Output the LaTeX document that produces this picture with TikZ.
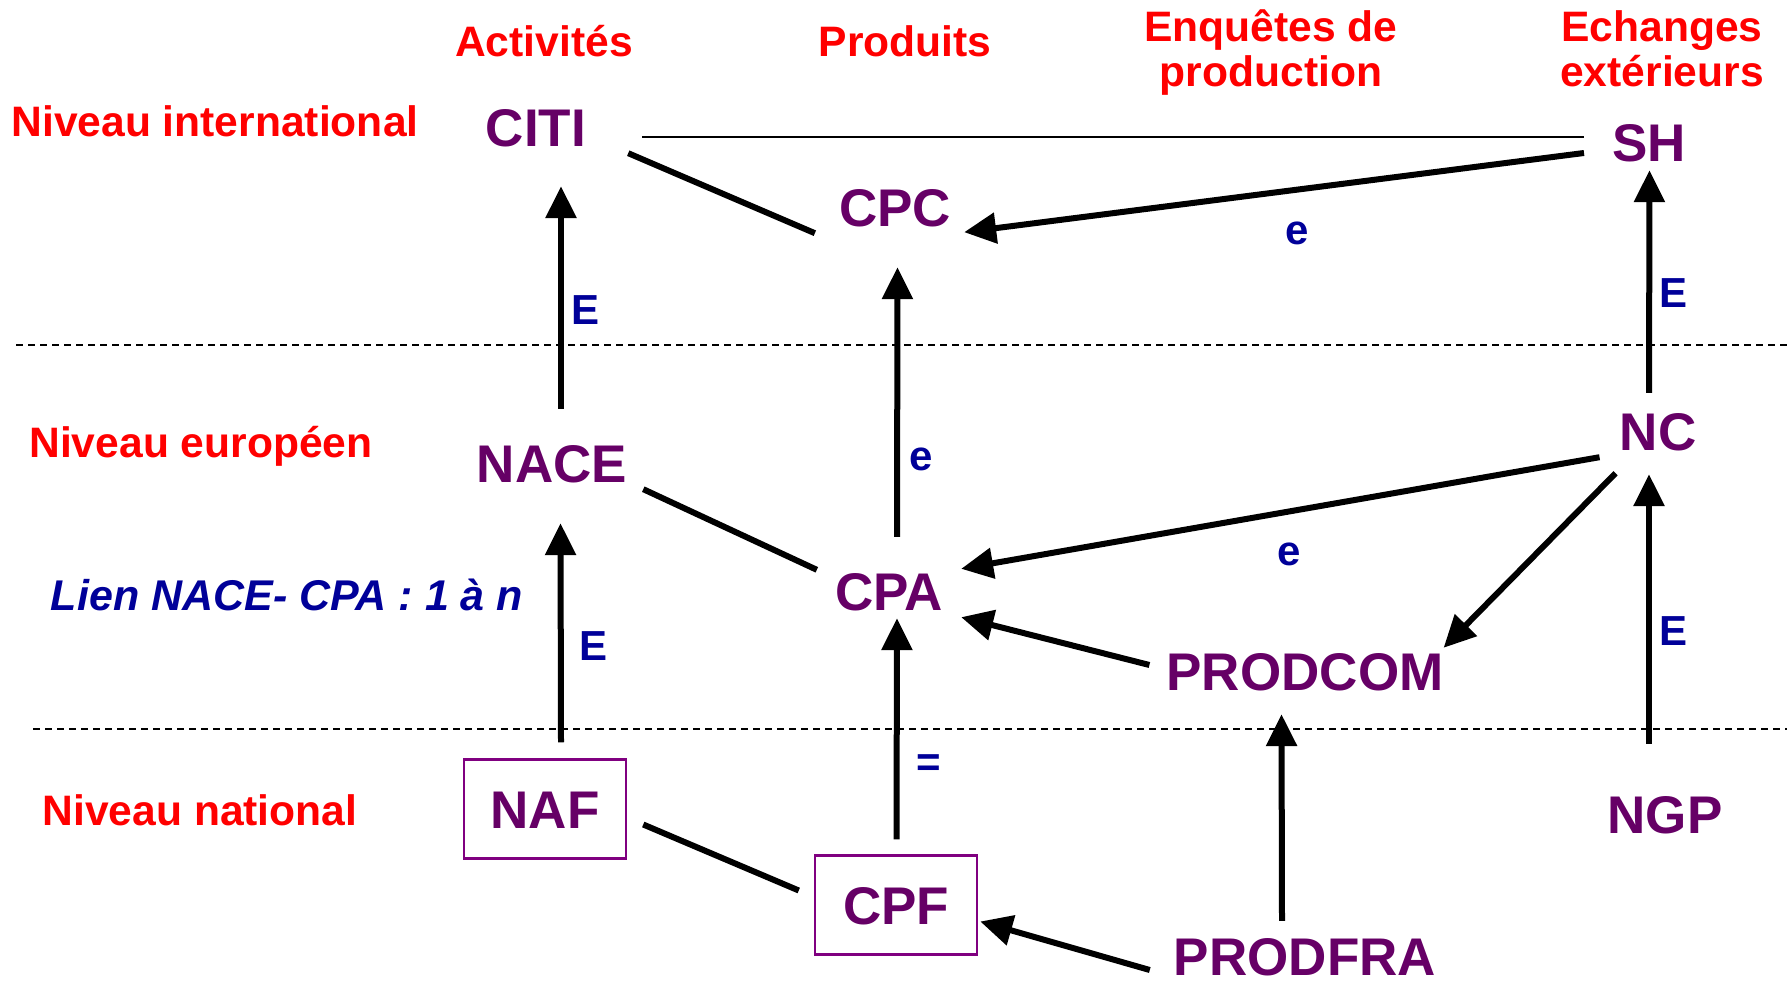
\documentclass[tikz,border=0pt]{standalone}
\usepackage{fontspec}
\setmainfont{Liberation Sans}
\usetikzlibrary{arrows.meta}
\definecolor{rouge}{RGB}{255,0,0}
\definecolor{prune}{RGB}{102,0,102}
\definecolor{cadre}{RGB}{128,0,128}
\definecolor{bleu}{RGB}{0,0,153}
\begin{document}
\begin{tikzpicture}[x=1pt,y=-1pt,
    titre/.style={text=rouge, font=\fontsize{42.6}{45}\selectfont\bfseries, anchor=base, align=center, inner sep=0pt},
    nomen/.style={text=prune, font=\fontsize{53}{56}\selectfont\bfseries, anchor=base, inner sep=0pt, text height=38pt, text depth=0pt},
    boite/.style={nomen, anchor=center, draw=cadre, line width=2.5pt, minimum width=162pt, minimum height=99pt},
    lettre/.style={text=bleu, font=\fontsize{42}{45}\selectfont\bfseries, anchor=base, inner sep=0pt},
    trait/.style={line width=6pt},
    fleche/.style={line width=6pt, -{Triangle[length=32pt,width=30pt]}},
    niveau/.style={line width=2pt, dash pattern=on 7pt off 5pt}]
    \useasboundingbox[fill=white] (0,0) rectangle (1787,981);

    \node[titre] (activites) at (544,57) {Activités};
    \node[titre] (produits) at (905,57) {Produits};
    \node[titre] (enquetes) at (1271,87) {Enquêtes de\\production};
    \node[titre] (echanges) at (1662,87) {Echanges\\extérieurs};
    \node[titre] (inter) at (215,137) {Niveau international};
    \node[titre] (europe) at (201,457) {Niveau européen};
    \node[titre] (nation) at (200,825) {Niveau national};
    \node[lettre, font=\fontsize{43}{45}\selectfont\bfseries\itshape] (lienNC) at (287,610) {Lien NACE- CPA : 1 à n};

    \node[nomen] (CITI) at (536,147) {CITI};
    \node[nomen] (CPC) at (895,227) {CPC};
    \node[nomen] (SH) at (1649,162) {SH};
    \node[nomen] (NACE) at (552,482) {NACE};
    \node[nomen] (CPA) at (889,610) {CPA};
    \node[nomen] (NC) at (1658,450) {NC};
    \node[nomen] (PRODCOM) at (1305,690) {PRODCOM};
    \node[boite] (NAF) at (545,809) {NAF};
    \node[boite] (CPF) at (896,905) {CPF};
    \node[nomen] (PRODFRA) at (1305,975) {PRODFRA};
    \node[nomen] (NGP) at (1665,833) {NGP};

    \draw[niveau] (16,345) -- (1787,345);
    \draw[niveau] (33,729) -- (1787,729);

    \draw[line width=2pt] ([shift={(56,9)}]CITI.east) -- ([shift={(-28,-6)}]SH.west);
    \draw[trait] ([shift={(42,6)}]CITI.south east) -- ([shift={(-24,6)}]CPC.south west);
    \draw[fleche] ([shift={(-28,10)}]SH.west) -- ([shift={(13,5)}]CPC.south east);
    \draw[fleche] ([shift={(9,-35)}]NACE.north) -- ([shift={(25,39)}]CITI.south);
    \draw[fleche] ([shift={(8,-35)}]CPA.north) -- ([shift={(2.5,40)}]CPC.south);
    \draw[fleche] ([shift={(-9,-19)}]NC.north) -- ([shift={(0.5,8)}]SH.south);
    \draw[trait] ([shift={(16,7)}]NACE.south east) -- ([shift={(-18,-2)}]CPA.north west);
    \draw[fleche] ([shift={(-20,7)}]NC.south west) -- ([shift={(18,-3)}]CPA.north east);
    \draw[fleche] ([shift={(-4,23)}]NC.south west) -- ([shift={(0,-4)}]PRODCOM.north east);
    \draw[fleche] ([shift={(-17,-6)}]PRODCOM.west) -- ([shift={(18,7)}]CPA.south east);
    \draw[fleche] ([shift={(16,-16)}]NAF.north) -- ([shift={(8.5,41)}]NACE.south);
    \draw[fleche] ([shift={(-16,-51)}]NGP.north) -- ([shift={(-9,24)}]NC.south);
    \draw[fleche] ([shift={(0.5,-15)}]CPF.north) -- ([shift={(8,8)}]CPA.south);
    \draw[fleche] ([shift={(-23,-16)}]PRODFRA.north) -- ([shift={(-23.5,24)}]PRODCOM.south);
    \draw[trait] ([shift={(16,15.5)}]NAF.east) -- ([shift={(-15,-14.5)}]CPF.west);
    \draw[fleche] ([shift={(-24,14)}]PRODFRA.west) -- ([shift={(2,16.5)}]CPF.east);

    \node[lettre] (E1) at (585,325) {E};
    \node[lettre] (e1) at (1297,245) {e};
    \node[lettre] (E2) at (1673,308) {E};
    \node[lettre] (e2) at (921,470) {e};
    \node[lettre] (e3) at (1289,565) {e};
    \node[lettre] (E3) at (593,660) {E};
    \node[lettre] (E4) at (1673,645) {E};
    \node[lettre] (egal) at (929,776) {=};
\end{tikzpicture}
\end{document}
